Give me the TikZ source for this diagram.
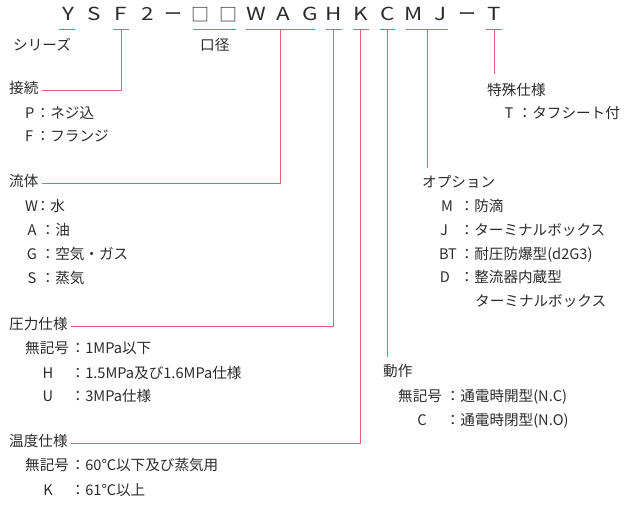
\documentclass[tikz,border=0pt]{standalone}
\usepackage{fontspec}
\setmainfont{Noto Sans CJK JP}
\definecolor{pk}{HTML}{E2607F}
\definecolor{tx}{HTML}{2B2B2B}
\begin{document}
\begin{tikzpicture}[x=1pt,y=-1pt,
  lbl/.style={anchor=west, inner sep=0pt, text height=0.88em, text depth=0.12em, font=\fontsize{14.6}{16}\selectfont, text=tx},
  key/.style={lbl, anchor=center},
  code/.style={anchor=base, inner sep=0pt, font=\fontsize{18}{20}\selectfont, text=tx},
  ln/.style={draw=pk, line width=1pt}]
\useasboundingbox (0,0) rectangle (635,504);

% code line
\foreach \c/\x/\n in {Y/68/cY, S/94/cS, F/121/cF, 2/148/c2, W/256/cW, A/283/cA, G/310/cG, H/334/cH, K/360.5/cK, C/387.5/cC, M/414/cM, J/441/cJ, T/494/cT}
  \node[code] (\n) at (\x,20.5) {\scalebox{1.25}[1]{\c}};
\foreach \x/\n in {173.5/cd1, 467/cd2}
  \node[code] (\n) at (\x,20.5) {ー};
\foreach \x/\n in {200.5/cq1, 228/cq2}
  \node[code] (\n) at (\x,21) {□};

% underline coordinates
\coordinate (uYl) at (59,29);  \coordinate (uYr) at (75,29);
\coordinate (uFl) at (113,29); \coordinate (uFr) at (129,29); \coordinate (uF) at (121,29);
\coordinate (uQl) at (193,29); \coordinate (uQr) at (236,29);
\coordinate (uWl) at (246,29); \coordinate (uWr) at (315,29); \coordinate (uW) at (280,29);
\coordinate (uHl) at (326,29); \coordinate (uHr) at (342,29); \coordinate (uH) at (333.5,29);
\coordinate (uKl) at (353,29); \coordinate (uKr) at (369,29); \coordinate (uK) at (360.5,29);
\coordinate (uCl) at (380,29); \coordinate (uCr) at (395,29); \coordinate (uC) at (387.5,29);
\coordinate (uMl) at (406,29); \coordinate (uMr) at (448,29); \coordinate (uM) at (427,29);
\coordinate (uTl) at (486,29); \coordinate (uTr) at (502,29); \coordinate (uT) at (494,29);

\foreach \a/\b in {uYl/uYr, uFl/uFr, uQl/uQr, uWl/uWr, uHl/uHr, uKl/uKr, uCl/uCr, uMl/uMr, uTl/uTr}
  \draw[ln] (\a) -- (\b);

% labels under code
\node[lbl] (series) at (13,47) {シリーズ};
\node[lbl] (kokei) at (200,47) {口径};

% left column
\node[lbl] (setsuzoku) at (9,90) {接続};
\node[lbl] (kP) at (25,115) {P}; \node[lbl] (tP) at (35.5,115) {：ネジ込};
\node[lbl] (kF) at (25,138) {F}; \node[lbl] (tF) at (35.5,138) {：フランジ};

\node[lbl] (ryutai) at (9,183) {流体};
\node[lbl] (kW) at (25,208) {W}; \node[lbl] (tW) at (35.5,208) {：水};
\node[key] (kA) at (32,232) {A}; \node[lbl] (tA) at (40.5,232) {：油};
\node[key] (kG) at (32,256) {G}; \node[lbl] (tG) at (40.5,256) {：空気・ガス};
\node[key] (kS) at (32,280) {S}; \node[lbl] (tS) at (40.5,280) {：蒸気};

\node[lbl] (atsu) at (9,326) {圧力仕様};
\node[lbl] (kP0) at (25,350) {無記号}; \node[lbl] (tP0) at (70.5,350) {：1MPa以下};
\node[key] (kH) at (48,375) {H}; \node[lbl] (tH) at (70.5,375) {：1.5MPa及び1.6MPa仕様};
\node[key] (kU) at (48,398) {U}; \node[lbl] (tU) at (70.5,398) {：3MPa仕様};

\node[lbl] (ondo) at (9,443) {温度仕様};
\node[lbl] (kT0) at (25,467) {無記号}; \node[lbl] (tT0) at (70.5,467) {：60℃以下及び蒸気用};
\node[key] (kK) at (48,492) {K}; \node[lbl] (tK) at (70.5,492) {：61℃以上};

% right column
\node[lbl] (tokushu) at (487,92) {特殊仕様};
\node[key] (kTT) at (509,115) {T}; \node[lbl] (tTT) at (517.5,115) {：タフシート付};

\node[lbl] (option) at (422,184) {オプション};
\node[key] (kM) at (447,208) {M}; \node[lbl] (tM) at (459.5,208) {：防滴};
\node[key] (kJ) at (444,232) {J}; \node[lbl] (tJ) at (459.5,232) {：ターミナルボックス};
\node[key] (kBT) at (448,256) {BT}; \node[lbl] (tBT) at (459.5,256) {：耐圧防爆型(d2G3)};
\node[key] (kD) at (445,279) {D}; \node[lbl] (tD) at (459.5,279) {：整流器内蔵型};
\node[lbl] (tD2) at (475,303) {ターミナルボックス};

\node[lbl] (dosa) at (383,373) {動作};
\node[lbl] (kN) at (398,398) {無記号}; \node[lbl] (tN) at (445.5,398) {：通電時開型(N.C)};
\node[key] (kC) at (422,422) {C}; \node[lbl] (tC) at (445.5,422) {：通電時閉型(N.O)};

% connectors
\draw[ln] (uF) |- ([xshift=3pt]setsuzoku.east);
\draw[ln] (uW) |- ([xshift=3pt]ryutai.east);
\draw[ln] (uH) |- ([xshift=3pt]atsu.east);
\draw[ln] (uK) |- ([xshift=3pt]ondo.east);
\coordinate (eC) at (387.5,357);
\coordinate (eM) at (427,168);
\coordinate (eT) at (494,74);
\draw[ln] (uC) -- (eC);
\draw[ln] (uM) -- (eM);
\draw[ln] (uT) -- (eT);
\end{tikzpicture}
\end{document}
